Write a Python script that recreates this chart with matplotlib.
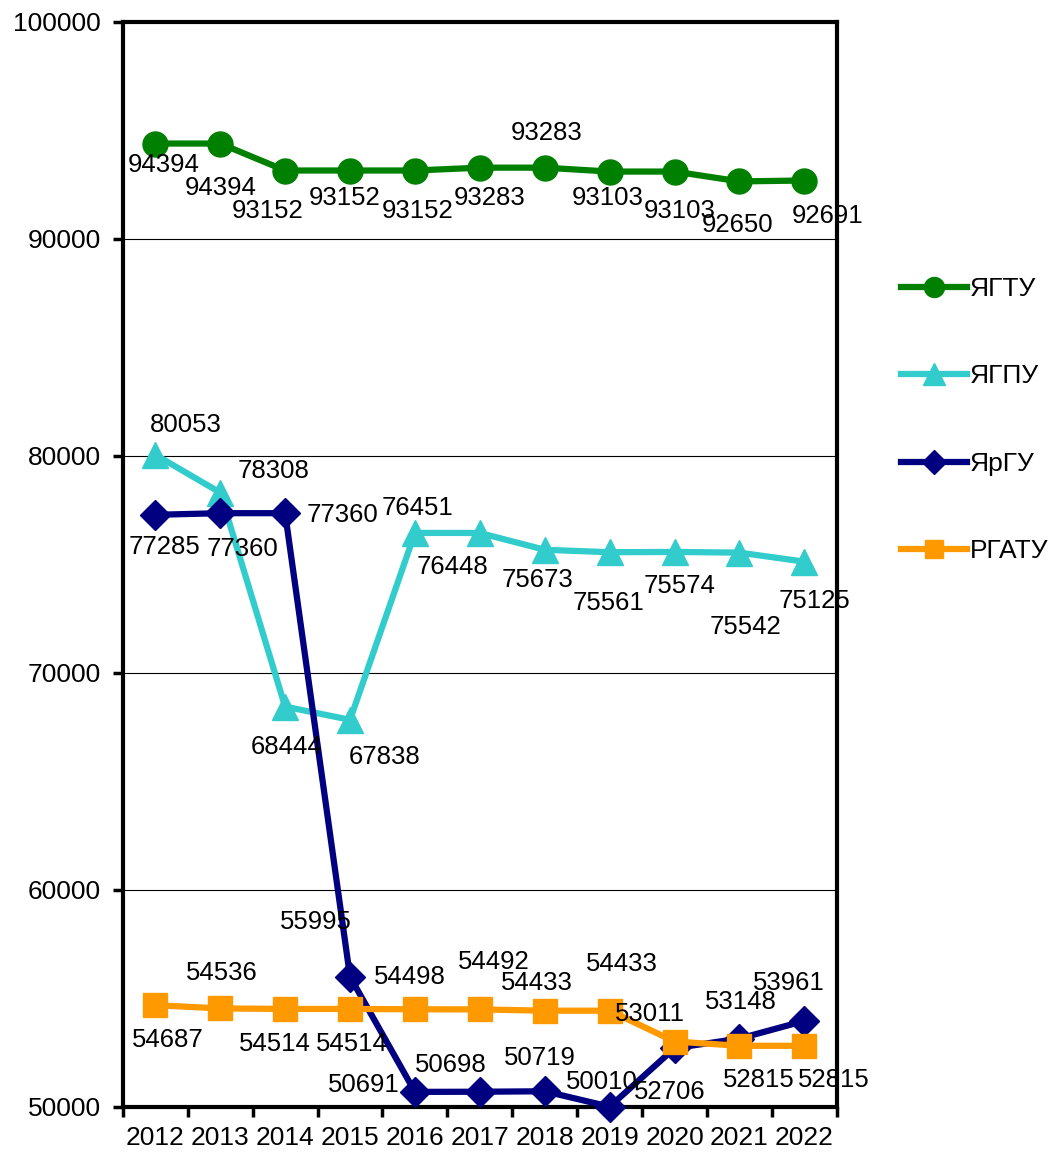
import matplotlib
matplotlib.use("Agg")
import matplotlib.pyplot as plt

plt.rcParams['font.family'] = ['Liberation Sans', 'DejaVu Sans']

years = ['2012', '2013', '2014', '2015', '2016', '2017', '2018', '2019', '2020', '2021', '2022']

ygtu = [94394, 94394, 93152, 93152, 93152, 93283, 93283, 93103, 93103, 92650, 92691]
ygpu = [80053, 78308, 68444, 67838, 76451, 76448, 75673, 75561, 75574, 75542, 75125]
yargu = [77285, 77360, 77360, 55995, 50691, 50698, 50719, 50010, 52706, 53148, 53961]
rgatu = [54687, 54536, 54514, 54514, 54498, 54492, 54433, 54433, 53011, 52815, 52815]

# label offsets in pixels (dx right, dy down) relative to each point
off_ygtu = [(8, 21), (0, 44), (-17, 40), (-5, 27), (3, 40), (10, 30), (2, -35), (-2, 26), (5, 39), (-2, 44), (23, 35)]
off_ygpu = [(31, -30), (53, -22), (2, 40), (35, 37), (3, -25), (-27, 34), (-7, 30), (-1, 51), (5, 34), (6, 74), (10, 39)]
off_yargu = [(9, 32), (22, 36), (57, 2), (-34, -55), (-51, -7), (-29, -27), (-5, -33), (-8, -25), (-5, 44), (1, -37), (-16, -38)]
off_rgatu = [(12, 35), (2, -35), (-10, 35), (2, 35), (-5, -32), (14, -47), (-8, -28), (12, -47), (-25, -28), (19, 34), (29, 34)]

series = [
    ('ЯГТУ', ygtu, '#008000', 'o', 18, off_ygtu),
    ('ЯГПУ', ygpu, '#33CCCC', '^', 19, off_ygpu),
    ('ЯрГУ', yargu, '#000080', 'D', 15, off_yargu),
    ('РГАТУ', rgatu, '#FF9900', 's', 17, off_rgatu),
]

fig = plt.figure(figsize=(10.5, 11.53), dpi=100)
ax = fig.add_axes([0.117, 0.040, 0.680, 0.941])

x = list(range(len(years)))
for name, vals, col, mk, ms, offs in series:
    ax.plot(x, vals, color=col, lw=4.5, marker=mk, ms=ms, label=name, clip_on=False, zorder=3)
    for xi, v, (dx, dy) in zip(x, vals, offs):
        ax.annotate(str(v), (xi, v), xytext=(dx, -dy), textcoords='offset pixels',
                    ha='center', va='center', fontsize=18.5, zorder=5)

ax.set_xlim(-0.5, len(years) - 0.5)
ax.set_ylim(50000, 100000)
ax.set_yticks(range(50000, 100001, 10000))
ax.set_xticks(x)
ax.set_xticklabels(years)
ax.set_xticks([i - 0.5 for i in range(len(years) + 1)], minor=True)
ax.tick_params(axis='x', which='major', length=0, labelsize=19, pad=14)
ax.tick_params(axis='x', which='minor', length=7, width=2.5, direction='out')
ax.tick_params(axis='y', length=7, width=2.5, labelsize=19, pad=9)
ax.grid(axis='y', color='black', lw=0.8)
for s in ax.spines.values():
    s.set_linewidth(3)

leg = ax.legend(loc='center left', bbox_to_anchor=(1.075, 0.633), frameon=False, fontsize=19,
                handlelength=2.5, labelspacing=2.4, handletextpad=0.1, borderaxespad=0,
                markerscale=0.8)

fig.savefig('out.png', dpi=100)
